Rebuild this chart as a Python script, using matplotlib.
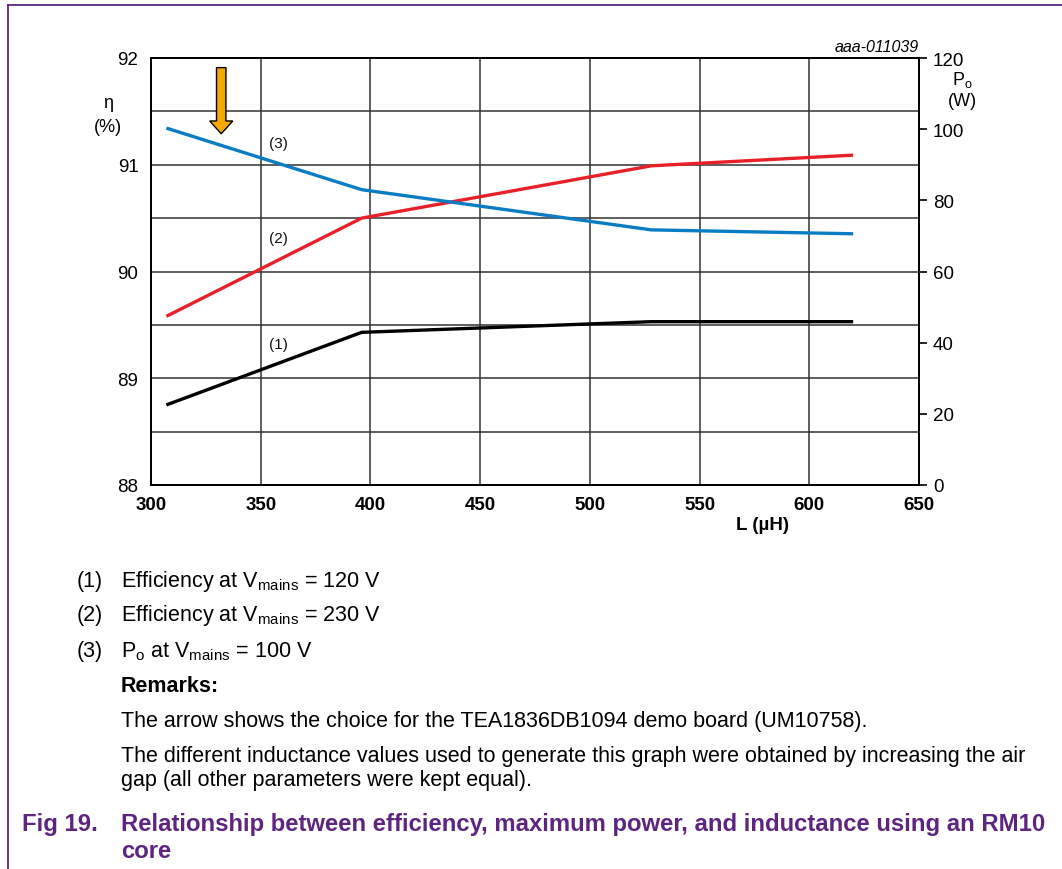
import matplotlib
matplotlib.use("Agg")
import matplotlib.pyplot as plt
from matplotlib.lines import Line2D

plt.rcParams['font.family'] = ['Liberation Sans', 'DejaVu Sans']
plt.rcParams['mathtext.fontset'] = 'custom'
plt.rcParams['mathtext.rm'] = 'Liberation Sans'
plt.rcParams['mathtext.it'] = 'Liberation Sans:italic'
plt.rcParams['mathtext.bf'] = 'Liberation Sans:bold'

# ---- data ----
L_uH = [307, 396, 528, 620]
eff_120V = [88.75, 89.43, 89.53, 89.53]
eff_230V = [89.58, 90.50, 90.99, 91.09]
po_100V = [100.3, 83.0, 71.7, 70.6]

x_ticks = [300, 350, 400, 450, 500, 550, 600, 650]
y_left_ticks = [88, 89, 90, 91, 92]
y_right_ticks = [0, 20, 40, 60, 80, 100, 120]
arrow_L = 332
arrow_top, arrow_tip = 91.91, 91.29

label_pos_L = 358
curve_labels = [("(1)", 89.32), ("(2)", 90.31), ("(3)", 91.20)]

PURPLE = '#5E2580'
RED = '#E8202A'
BLUE = '#0A7CC4'
ORANGE = '#F5A800'

fig = plt.figure(figsize=(10.62, 8.70), dpi=100)
ax = fig.add_axes([151/1062, 1-486/870, (919-151)/1062, (486-59)/870])
ax2 = ax.twinx()

ax.set_xlim(300, 650)
ax.set_ylim(88, 92)
ax2.set_ylim(0, 120)
ax.set_xticks(x_ticks)
ax.set_yticks(y_left_ticks)
ax.set_yticks([88.5, 89.5, 90.5, 91.5], minor=True)
ax.grid(True, which='both', color='#333333', lw=1.1)
ax.set_axisbelow(True)

ax.plot(L_uH, eff_120V, color='black', lw=2.4, solid_capstyle='butt', zorder=3)
ax.plot(L_uH, eff_230V, color=RED, lw=2.4, solid_capstyle='butt', zorder=3)
ax2.plot(L_uH, po_100V, color=BLUE, lw=2.4, solid_capstyle='butt', zorder=3)

for txt, yv in curve_labels:
    ax.text(label_pos_L, yv, txt, fontsize=11, ha='center', va='center', color='#111111', zorder=4)

ax.arrow(arrow_L, arrow_top, 0, arrow_tip - arrow_top, width=4.3, head_width=10.5,
         head_length=0.12, length_includes_head=True, fc=ORANGE, ec='black', lw=1.0, zorder=5)

for sp in list(ax.spines.values()) + list(ax2.spines.values()):
    sp.set_linewidth(1.3)

ax.tick_params(axis='y', which='both', length=0, pad=9, labelsize=13.5)
ax.tick_params(axis='x', which='both', length=0, pad=8, labelsize=13.5)
for lab in ax.get_xticklabels():
    lab.set_fontweight('bold')
ax2.set_yticks(y_right_ticks)
ax2.tick_params(axis='y', length=6, width=1.2, pad=4, labelsize=13.5, direction='out')

# axis titles
fig.text(108/1062, 1-104/870, 'η', fontsize=13, ha='center', va='center')
fig.text(108/1062, 1-127/870, '(%)', fontsize=13, ha='center', va='center')
fig.text(962/1062, 1-80/870, r'P$_\mathregular{o}$', fontsize=13, ha='center', va='center')
fig.text(962/1062, 1-102/870, '(W)', fontsize=13, ha='center', va='center')
fig.text(919/1062, 1-48/870, 'aaa-011039', fontsize=11.5, style='italic', ha='right', va='center')
fig.text(763/1062, 1-525/870, 'L (µH)', fontsize=13.5, fontweight='bold', ha='center', va='center')

# notes
fs = 15.5
xn, xt = 77/1062, 121/1062
notes = [("(1)", r'Efficiency at V$_\mathregular{mains}$ = 120 V', 582),
         ("(2)", r'Efficiency at V$_\mathregular{mains}$ = 230 V', 616),
         ("(3)", r'P$_\mathregular{o}$ at V$_\mathregular{mains}$ = 100 V', 652)]
for n, t, yp in notes:
    fig.text(xn, 1-yp/870, n, fontsize=fs, ha='left', va='center')
    fig.text(xt, 1-yp/870, t, fontsize=fs, ha='left', va='center')
fig.text(xt, 1-687/870, 'Remarks:', fontsize=fs, fontweight='bold', ha='left', va='center')
fig.text(xt, 1-722/870, 'The arrow shows the choice for the TEA1836DB1094 demo board (UM10758).',
         fontsize=fs, ha='left', va='center')
fig.text(xt, 1-757/870, 'The different inductance values used to generate this graph were obtained by increasing the air',
         fontsize=fs, ha='left', va='center')
fig.text(xt, 1-781/870, 'gap (all other parameters were kept equal).', fontsize=fs, ha='left', va='center')

cfs = 17.2
fig.text(22/1062, 1-825/870, 'Fig 19.', fontsize=cfs, fontweight='bold', color=PURPLE, ha='left', va='center')
fig.text(xt, 1-825/870, 'Relationship between efficiency, maximum power, and inductance using an RM10',
         fontsize=cfs, fontweight='bold', color=PURPLE, ha='left', va='center')
fig.text(xt, 1-852/870, 'core', fontsize=cfs, fontweight='bold', color=PURPLE, ha='left', va='center')

# frame
fig.add_artist(Line2D([8/1062, 1], [1-6/870, 1-6/870], color=PURPLE, lw=1.3, transform=fig.transFigure))
fig.add_artist(Line2D([8/1062, 8/1062], [0, 1-6/870], color=PURPLE, lw=1.3, transform=fig.transFigure))

fig.savefig('out.png', dpi=100)
